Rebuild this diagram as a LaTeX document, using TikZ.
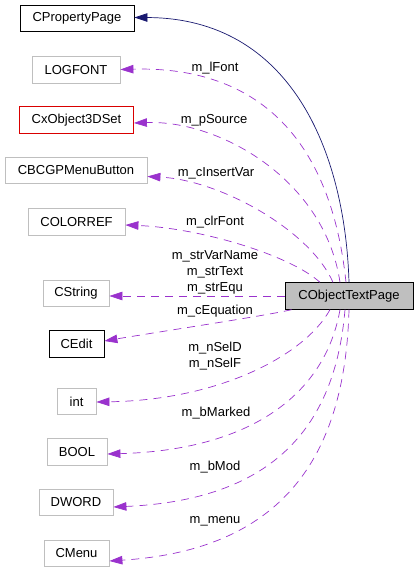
\documentclass[tikz,border=0pt]{standalone}
\usepackage{fontspec}
\setmainfont{Liberation Sans}
\usetikzlibrary{arrows.meta}
\definecolor{edgepurple}{HTML}{9A32CD}
\definecolor{edgenavy}{RGB}{25,25,112}
\definecolor{boxgray}{HTML}{BFBFBF}
\tikzset{
  cls/.style={draw=boxgray, line width=0.8pt, fill=white, inner sep=0pt, minimum height=26.5pt,
    font=\fontsize{13}{16}\selectfont},
  clsblack/.style={cls, draw=black},
  clsred/.style={cls, draw=red!85!black},
  clsmain/.style={cls, draw=black, fill=boxgray},
  usage/.style={draw=edgepurple, line width=0.7pt, dash pattern=on 8pt off 6pt,
    -{Triangle[length=13pt,width=8.5pt,fill=edgepurple]}},
  inherit/.style={draw=edgenavy, line width=0.7pt,
    -{Triangle[length=13pt,width=8.5pt,fill=edgenavy]}},
  lbl/.style={font=\fontsize{13}{16}\selectfont, align=center, inner sep=0pt}
}
\begin{document}
\begin{tikzpicture}[x=1pt,y=-1pt]
\useasboundingbox (0,0) rectangle (418,572);
\node[clsblack, minimum width=114pt] (pp) at (77,18.5) {CPropertyPage};
\node[cls, minimum width=88pt] (lf) at (76,70) {LOGFONT};
\node[clsred, minimum width=114pt] (xo) at (76.5,120) {CxObject3DSet};
\node[cls, minimum width=142pt] (mb) at (76,170.5) {CBCGPMenuButton};
\node[cls, minimum width=97pt] (cr) at (76.5,222) {COLORREF};
\node[cls, minimum width=66pt] (cs) at (76,293.5) {CString};
\node[clsblack, minimum width=55pt] (ce) at (76.5,344) {CEdit};
\node[cls, minimum width=39pt] (in) at (76.5,401.5) {int};
\node[cls, minimum width=60pt] (bo) at (77,452) {BOOL};
\node[cls, minimum width=74pt] (dw) at (76,502.5) {DWORD};
\node[cls, minimum width=65pt] (cm) at (76.5,553.5) {CMenu};
\node[clsmain, minimum width=128pt] (ot) at (349,296) {CObjectTextPage};

% inheritance
\draw[inherit] (ot.north) .. controls (345,150) and (290,18) .. ([yshift=1pt]pp.east);

% usage edges
\draw[usage] ([xshift=-3pt]ot.north) .. controls (330,130) and (250,66) .. ([yshift=0.5pt]lf.east);
\draw[usage] ([xshift=-9pt]ot.north) .. controls (325,180) and (220,120) .. ([yshift=-3pt]xo.east);
\draw[usage] ([xshift=-16pt]ot.north) .. controls (310,230) and (220,180) .. ([yshift=-6pt]mb.east);
\draw[usage] ([xshift=-29pt]ot.north) .. controls (290,255) and (200,228) .. ([yshift=-3pt]cr.east);
\draw[usage] (ot.west) -- ([yshift=-2.5pt]cs.east);
\draw[usage] ([xshift=7pt]ot.south west) .. controls (270,315) and (170,330) .. ([yshift=3pt]ce.east);
\draw[usage] ([xshift=-19pt]ot.south) .. controls (305,355) and (220,400) .. ([yshift=-0.5pt]in.east);
\draw[usage] ([xshift=-9pt]ot.south) .. controls (325,395) and (250,450) .. ([yshift=-2pt]bo.east);
\draw[usage] ([xshift=-4pt]ot.south) .. controls (335,430) and (270,500) .. ([yshift=-4.5pt]dw.east);
\draw[usage] (ot.south) .. controls (345,460) and (280,550) .. ([yshift=-7.5pt]cm.east);

% labels
\node[lbl] (l1) at (215,68) {m\_lFont};
\node[lbl] (l2) at (214,120) {m\_pSource};
\node[lbl] (l3) at (216,173) {m\_cInsertVar};
\node[lbl] (l4) at (215,222) {m\_clrFont};
\node[lbl] (l5) at (215,272) {m\_strVarName\\m\_strText\\m\_strEqu};
\node[lbl] (l6) at (215,311) {m\_cEquation};
\node[lbl] (l7) at (215,356) {m\_nSelD\\m\_nSelF};
\node[lbl] (l8) at (216,413) {m\_bMarked};
\node[lbl] (l9) at (215,467) {m\_bMod};
\node[lbl] (l10) at (215,521) {m\_menu};
\end{tikzpicture}
\end{document}
